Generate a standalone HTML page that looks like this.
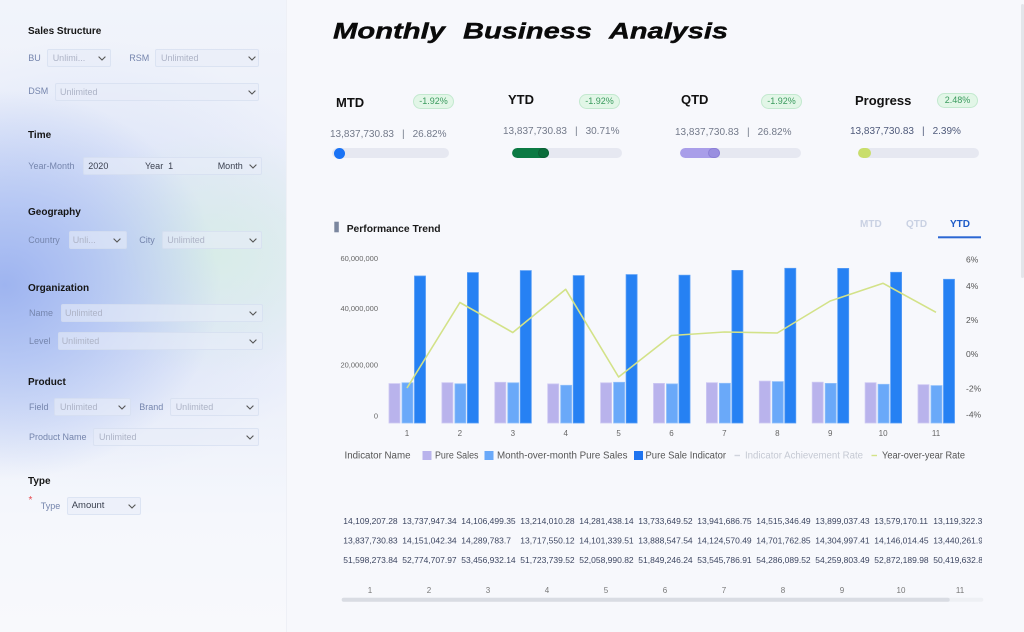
<!DOCTYPE html>
<html><head><meta charset="utf-8">
<style>
*{margin:0;padding:0;box-sizing:border-box}
html,body{width:1024px;height:632px;overflow:hidden;background:#f7f8fc;font-family:"Liberation Sans",Arial,sans-serif}
.a{position:absolute;white-space:nowrap}
.side{position:absolute;left:0;top:0;width:287px;height:632px;
background:
radial-gradient(ellipse 215px 195px at 5px 285px, rgba(158,180,240,1) 0%, rgba(168,189,242,0.75) 40%, rgba(185,200,245,0) 100%),
radial-gradient(ellipse 160px 120px at 215px 255px, rgba(216,237,231,0.95) 0%, rgba(216,237,231,0) 100%),
radial-gradient(ellipse 260px 220px at 90px 260px, rgba(196,210,245,0.6) 0%, rgba(196,210,245,0) 100%),
linear-gradient(180deg,#f1f4fb 0%,#eaeef9 35%,#ecf0fa 62%,#f5f7fc 82%,#f8f9fc 100%);
border-right:1px solid #eef0f6}
.h{font-size:10px;font-weight:bold;color:#151515;line-height:14px}
.l{font-size:9px;color:#7585ad;line-height:12px}
.s{position:absolute;height:18px;background:rgba(232,237,249,0.6);border:1px solid rgba(208,216,236,0.55);border-radius:2px}
.s span{position:absolute;top:0;line-height:16px;font-size:9px;color:#adb3c6;white-space:nowrap}
.s span.d{color:#3b4150}
.s svg{position:absolute;top:5.5px}
.kt{font-size:13px;font-weight:bold;color:#111;line-height:16px}
.bd{position:absolute;width:41px;height:15px;border-radius:8px;background:#e2f6e7;border:1px solid #c3e9cf;color:#3a9a5e;font-size:9px;line-height:13px;text-align:center}
.kv{font-size:10px;color:#737a8a;line-height:12px}
.kv i{font-style:normal;margin:0 8px}
.tr{position:absolute;height:10px;border-radius:5px;background:#e6e8f1;overflow:hidden}
</style></head>
<body>
<div class="side"></div>

<!-- Sidebar headers -->
<div class="a h" style="left:28px;top:24.7px">Sales Structure</div>
<div class="a h" style="left:28px;top:129px">Time</div>
<div class="a h" style="left:28px;top:206.3px">Geography</div>
<div class="a h" style="left:28px;top:282.3px">Organization</div>
<div class="a h" style="left:28px;top:376.3px">Product</div>
<div class="a h" style="left:28px;top:474.7px">Type</div>

<!-- Labels -->
<div class="a l" style="left:28.3px;top:51.7px">BU</div>
<div class="a l" style="left:129.3px;top:51.7px">RSM</div>
<div class="a l" style="left:28.3px;top:84.7px">DSM</div>
<div class="a l" style="left:28.3px;top:159.7px">Year-Month</div>
<div class="a l" style="left:28.3px;top:234px">Country</div>
<div class="a l" style="left:139.3px;top:234px">City</div>
<div class="a l" style="left:29px;top:306.7px">Name</div>
<div class="a l" style="left:29px;top:334.7px">Level</div>
<div class="a l" style="left:29px;top:400.7px">Field</div>
<div class="a l" style="left:139.3px;top:400.7px">Brand</div>
<div class="a l" style="left:29px;top:431.3px">Product Name</div>
<div class="a" style="left:28.5px;top:495px;font-size:10px;color:#e5484d;line-height:12px">*</div>
<div class="a l" style="left:40.7px;top:499.7px">Type</div>

<!-- Selects -->
<div class="s" style="left:47px;top:49px;width:64px"><span style="left:4.7px">Unlimi...</span><svg style="left:50px" width="8" height="5"><path d="M0.6 0.6L4 4L7.4 0.6" stroke="#555" stroke-width="1.1" fill="none"/></svg></div>
<div class="s" style="left:155px;top:49px;width:104px"><span style="left:5px">Unlimited</span><svg style="left:92.3px" width="8" height="5"><path d="M0.6 0.6L4 4L7.4 0.6" stroke="#555" stroke-width="1.1" fill="none"/></svg></div>
<div class="s" style="left:55px;top:83px;width:204px"><span style="left:4px">Unlimited</span><svg style="left:192.3px" width="8" height="5"><path d="M0.6 0.6L4 4L7.4 0.6" stroke="#555" stroke-width="1.1" fill="none"/></svg></div>
<div class="s" style="left:83px;top:157px;width:179px"><span class="d" style="left:4.3px">2020</span><span class="d" style="left:61px">Year&nbsp;&nbsp;1</span><span class="d" style="left:133.7px">Month</span><svg style="left:165.3px" width="8" height="5"><path d="M0.6 0.6L4 4L7.4 0.6" stroke="#555" stroke-width="1.1" fill="none"/></svg></div>
<div class="s" style="left:69px;top:231px;width:58px"><span style="left:2.7px">Unli...</span><svg style="left:43.3px" width="8" height="5"><path d="M0.6 0.6L4 4L7.4 0.6" stroke="#555" stroke-width="1.1" fill="none"/></svg></div>
<div class="s" style="left:162px;top:231px;width:100px"><span style="left:4.3px">Unlimited</span><svg style="left:86.3px" width="8" height="5"><path d="M0.6 0.6L4 4L7.4 0.6" stroke="#555" stroke-width="1.1" fill="none"/></svg></div>
<div class="s" style="left:61px;top:304px;width:202px"><span style="left:3px">Unlimited</span><svg style="left:187.3px" width="8" height="5"><path d="M0.6 0.6L4 4L7.4 0.6" stroke="#555" stroke-width="1.1" fill="none"/></svg></div>
<div class="s" style="left:58px;top:332px;width:205px"><span style="left:2.7px">Unlimited</span><svg style="left:190.3px" width="8" height="5"><path d="M0.6 0.6L4 4L7.4 0.6" stroke="#555" stroke-width="1.1" fill="none"/></svg></div>
<div class="s" style="left:54px;top:398px;width:77px"><span style="left:5px">Unlimited</span><svg style="left:63.3px" width="8" height="5"><path d="M0.6 0.6L4 4L7.4 0.6" stroke="#555" stroke-width="1.1" fill="none"/></svg></div>
<div class="s" style="left:170px;top:398px;width:89px"><span style="left:4.7px">Unlimited</span><svg style="left:75px" width="8" height="5"><path d="M0.6 0.6L4 4L7.4 0.6" stroke="#555" stroke-width="1.1" fill="none"/></svg></div>
<div class="s" style="left:93px;top:428px;width:166px"><span style="left:5px">Unlimited</span><svg style="left:152px" width="8" height="5"><path d="M0.6 0.6L4 4L7.4 0.6" stroke="#555" stroke-width="1.1" fill="none"/></svg></div>
<div class="s" style="left:67px;top:497px;width:74px"><span class="d" style="left:3.7px;font-size:9.5px">Amount</span><svg style="left:59.7px" width="8" height="5"><path d="M0.6 0.6L4 4L7.4 0.6" stroke="#555" stroke-width="1.1" fill="none"/></svg></div>

<!-- KPI cards -->
<div class="a kt" style="left:336px;top:94.7px">MTD</div>
<div class="bd" style="left:413px;top:94px">-1.92%</div>
<div class="a kv" style="left:330px;top:129px">13,837,730.83<i>|</i>26.82%</div>
<div class="tr" style="left:332px;top:148px;width:117px"></div>
<div class="a" style="left:334px;top:148px;width:11px;height:11px;border-radius:50%;background:#1a73f5"></div>

<div class="a kt" style="left:508px;top:92px">YTD</div>
<div class="bd" style="left:579px;top:94px">-1.92%</div>
<div class="a kv" style="left:503px;top:125.7px">13,837,730.83<i>|</i>30.71%</div>
<div class="tr" style="left:512px;top:148px;width:110px"><div style="position:absolute;left:0;top:0;width:37px;height:10px;border-radius:5px;background:#0b7a43"></div><div style="position:absolute;left:26px;top:0;width:11px;height:10px;border-radius:5px;background:#0a6d3b;border:1px solid #0a5f34"></div></div>

<div class="a kt" style="left:681px;top:92px">QTD</div>
<div class="bd" style="left:761px;top:94px">-1.92%</div>
<div class="a kv" style="left:675px;top:127.3px">13,837,730.83<i>|</i>26.82%</div>
<div class="tr" style="left:680px;top:148px;width:121px"><div style="position:absolute;left:0;top:0;width:40px;height:10px;border-radius:5px;background:#a99ee9"></div><div style="position:absolute;left:28px;top:0;width:12px;height:10px;border-radius:5px;background:#9a8fe0;border:1px solid #8c80d6"></div></div>

<div class="a kt" style="left:855px;top:92.7px">Progress</div>
<div class="bd" style="left:937px;top:93px">2.48%</div>
<div class="a kv" style="left:850px;top:125.7px;color:#4f5a7a">13,837,730.83<i>|</i>2.39%</div>
<div class="tr" style="left:858px;top:148px;width:121px"><div style="position:absolute;left:0;top:0;width:13px;height:10px;border-radius:5px;background:#c9de6b"></div></div>

<!-- scrollbar -->
<div class="a" style="left:1021px;top:4px;width:3px;height:274px;background:#e3e5ea;border-radius:2px"></div>

<svg class="a" style="left:0;top:0" width="1024" height="632" viewBox="0 0 1024 632" font-family="Liberation Sans, Arial, sans-serif">
  <defs><clipPath id="tc"><rect x="330" y="505" width="652" height="70"/></clipPath></defs>
  <!-- Title -->
  <g font-size="22" font-weight="bold" font-style="italic" fill="#0a0a0a" stroke="#0a0a0a" stroke-width="0.4">
    <text x="333" y="38.5" textLength="112" lengthAdjust="spacingAndGlyphs">Monthly</text>
    <text x="463" y="38.5" textLength="129" lengthAdjust="spacingAndGlyphs">Business</text>
    <text x="609" y="38.5" textLength="119" lengthAdjust="spacingAndGlyphs">Analysis</text>
  </g>

  <!-- Performance Trend header -->
  <rect x="334.3" y="221.7" width="4.5" height="10.6" fill="#7b879f"/>
  <text x="346.7" y="231.9" font-size="10.3" font-weight="bold" fill="#1a1a1a">Performance Trend</text>

  <!-- Tabs -->
  <g font-size="10" font-weight="bold">
    <text x="860" y="226.8" fill="#c9d1e3">MTD</text>
    <text x="906" y="226.8" fill="#c9d1e3">QTD</text>
    <text x="950" y="226.8" fill="#1d5bc8">YTD</text>
  </g>
  <rect x="938" y="236.3" width="43" height="2" fill="#2b67d3"/>

  <!-- Left axis -->
  <g font-size="7.5" fill="#666" text-anchor="end">
    <text x="378" y="261">60,000,000</text>
    <text x="378" y="311">40,000,000</text>
    <text x="378" y="367.7">20,000,000</text>
    <text x="378" y="418.4">0</text>
  </g>
  <!-- Right axis -->
  <g font-size="8.5" fill="#555">
    <text x="966" y="262.3">6%</text>
    <text x="966" y="289">4%</text>
    <text x="966" y="323">2%</text>
    <text x="966" y="357">0%</text>
    <text x="966" y="391.3">-2%</text>
    <text x="966" y="417.3">-4%</text>
  </g>

  <!-- Purple bars -->
  <g fill="#b9b3ec" stroke="#cdc8f3" stroke-width="0.8">
    <rect x="389" y="383.6" width="11" height="39.4"/>
    <rect x="441.9" y="382.7" width="11" height="40.3"/>
    <rect x="494.8" y="382.3" width="11" height="40.7"/>
    <rect x="547.7" y="383.9" width="11" height="39.1"/>
    <rect x="600.6" y="382.8" width="11" height="40.2"/>
    <rect x="653.5" y="383.4" width="11" height="39.6"/>
    <rect x="706.4" y="382.7" width="11" height="40.3"/>
    <rect x="759.3" y="381.1" width="11" height="41.9"/>
    <rect x="812.2" y="382.2" width="11" height="40.8"/>
    <rect x="865.1" y="382.7" width="11" height="40.3"/>
    <rect x="918" y="384.7" width="11" height="38.3"/>
  </g>
  <!-- Light blue bars -->
  <g fill="#6aa9f9" stroke="#8fbffb" stroke-width="0.8">
    <rect x="402" y="382.8" width="11" height="40.2"/>
    <rect x="454.9" y="383.8" width="11" height="39.2"/>
    <rect x="507.8" y="382.8" width="11" height="40.2"/>
    <rect x="560.7" y="385.3" width="11" height="37.7"/>
    <rect x="613.6" y="382.3" width="11" height="40.7"/>
    <rect x="666.5" y="383.9" width="11" height="39.1"/>
    <rect x="719.4" y="383.3" width="11" height="39.7"/>
    <rect x="772.3" y="381.6" width="11" height="41.4"/>
    <rect x="825.2" y="383.4" width="11" height="39.6"/>
    <rect x="878.1" y="384.3" width="11" height="38.7"/>
    <rect x="931" y="385.6" width="11" height="37.4"/>
  </g>
  <!-- Blue bars -->
  <g fill="#2681f3" stroke="#559cf6" stroke-width="0.8">
    <rect x="414.5" y="276" width="11" height="147"/>
    <rect x="467.4" y="272.6" width="11" height="150.4"/>
    <rect x="520.3" y="270.6" width="11" height="152.4"/>
    <rect x="573.2" y="275.6" width="11" height="147.4"/>
    <rect x="626.1" y="274.6" width="11" height="148.4"/>
    <rect x="679" y="275.2" width="11" height="147.8"/>
    <rect x="731.9" y="270.4" width="11" height="152.6"/>
    <rect x="784.8" y="268.3" width="11" height="154.7"/>
    <rect x="837.7" y="268.4" width="11" height="154.6"/>
    <rect x="890.6" y="272.3" width="11" height="150.7"/>
    <rect x="943.5" y="279.3" width="11" height="143.7"/>
  </g>
  <!-- YoY line -->
  <polyline points="407,388 459.9,302.5 512.8,332.5 565.7,289.3 618.6,377 671.5,335.5 724.4,332 777.3,333 830.2,301 883.1,283.3 936,312.3" fill="none" stroke="#d3e288" stroke-width="1.6" stroke-linejoin="round"/>

  <!-- X labels -->
  <g font-size="8" fill="#666" text-anchor="middle">
    <text x="407" y="436">1</text><text x="459.9" y="436">2</text><text x="512.8" y="436">3</text>
    <text x="565.7" y="436">4</text><text x="618.6" y="436">5</text><text x="671.5" y="436">6</text>
    <text x="724.4" y="436">7</text><text x="777.3" y="436">8</text><text x="830.2" y="436">9</text>
    <text x="883.1" y="436">10</text><text x="936" y="436">11</text>
  </g>

  <!-- Legend -->
  <g font-size="10" fill="#555">
    <text x="344.5" y="458.5" textLength="66" lengthAdjust="spacingAndGlyphs">Indicator Name</text>
    <rect x="422.5" y="451" width="9" height="9" fill="#b9b3ec"/>
    <text x="435" y="458.5" textLength="43.5" lengthAdjust="spacingAndGlyphs">Pure Sales</text>
    <rect x="484.5" y="451" width="9" height="9" fill="#6aa9f9"/>
    <text x="497" y="458.5" textLength="130.5" lengthAdjust="spacingAndGlyphs">Month-over-month Pure Sales</text>
    <rect x="634" y="451" width="9" height="9" fill="#1f74f0"/>
    <text x="645.5" y="458.5" textLength="80.5" lengthAdjust="spacingAndGlyphs">Pure Sale Indicator</text>
    <rect x="734.5" y="454.8" width="5.5" height="1.4" fill="#cfd3dc"/>
    <text x="745" y="458.5" fill="#c5c9d3" textLength="118" lengthAdjust="spacingAndGlyphs">Indicator Achievement Rate</text>
    <rect x="871.5" y="454.8" width="5.5" height="1.4" fill="#d3e288"/>
    <text x="882" y="458.5" textLength="83" lengthAdjust="spacingAndGlyphs">Year-over-year Rate</text>
  </g>

  <!-- Table -->
  <g font-size="8.5" fill="#3c4560" clip-path="url(#tc)">
    <text x="343.3" y="524">14,109,207.28</text><text x="402.3" y="524">13,737,947.34</text><text x="461.3" y="524">14,106,499.35</text><text x="520.3" y="524">13,214,010.28</text><text x="579.3" y="524">14,281,438.14</text><text x="638.3" y="524">13,733,649.52</text><text x="697.3" y="524">13,941,686.75</text><text x="756.3" y="524">14,515,346.49</text><text x="815.3" y="524">13,899,037.43</text><text x="874.3" y="524">13,579,170.11</text><text x="933.3" y="524">13,119,322.36</text>
    <text x="343.3" y="543.7">13,837,730.83</text><text x="402.3" y="543.7">14,151,042.34</text><text x="461.3" y="543.7">14,289,783.7</text><text x="520.3" y="543.7">13,717,550.12</text><text x="579.3" y="543.7">14,101,339.51</text><text x="638.3" y="543.7">13,888,547.54</text><text x="697.3" y="543.7">14,124,570.49</text><text x="756.3" y="543.7">14,701,762.85</text><text x="815.3" y="543.7">14,304,997.41</text><text x="874.3" y="543.7">14,146,014.45</text><text x="933.3" y="543.7">13,440,261.91</text>
    <text x="343.3" y="563">51,598,273.84</text><text x="402.3" y="563">52,774,707.97</text><text x="461.3" y="563">53,456,932.14</text><text x="520.3" y="563">51,723,739.52</text><text x="579.3" y="563">52,058,990.82</text><text x="638.3" y="563">51,849,246.24</text><text x="697.3" y="563">53,545,786.91</text><text x="756.3" y="563">54,286,089.52</text><text x="815.3" y="563">54,259,803.49</text><text x="874.3" y="563">52,872,189.98</text><text x="933.3" y="563">50,419,632.8</text>
  </g>
  <g font-size="8" fill="#777" text-anchor="middle">
    <text x="370" y="593">1</text><text x="429" y="593">2</text><text x="488" y="593">3</text><text x="547" y="593">4</text><text x="606" y="593">5</text><text x="665" y="593">6</text><text x="724" y="593">7</text><text x="783" y="593">8</text><text x="842" y="593">9</text><text x="901" y="593">10</text><text x="960" y="593">11</text>
  </g>
  <rect x="341.7" y="597.7" width="641.6" height="4" rx="2" fill="#eef0f4"/>
  <rect x="341.7" y="597.7" width="608" height="4" rx="2" fill="#d9dce3"/>
</svg>
</body></html>
